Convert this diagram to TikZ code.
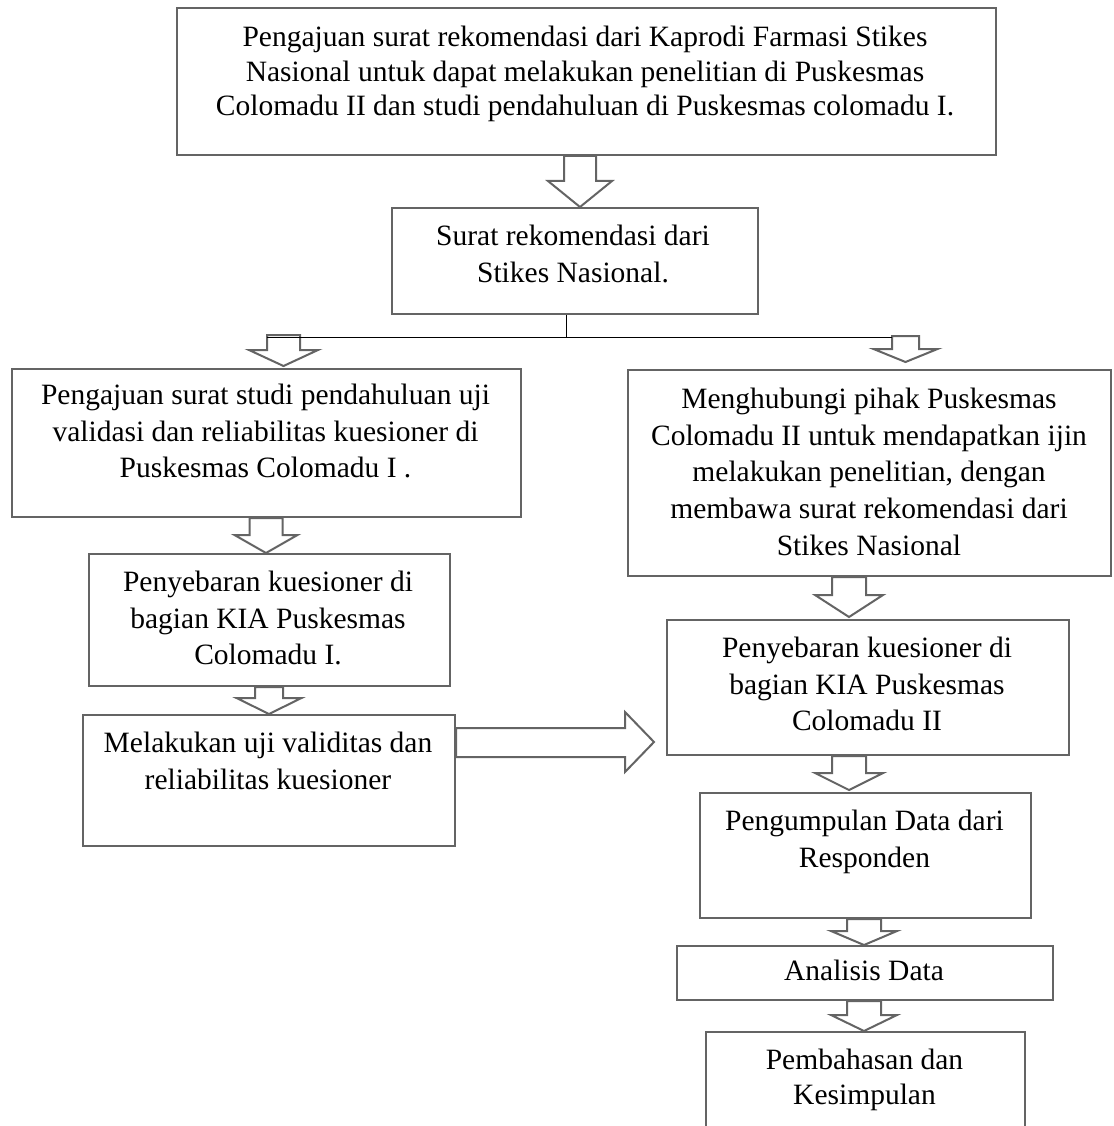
\documentclass[tikz,border=0pt]{standalone}
\usepackage{fontspec}
\setmainfont{Liberation Serif}
\usetikzlibrary{calc}
\definecolor{linegray}{RGB}{100,100,100}
% #1 start point, #2 tip point, #3 centre x, #4 shaft half width, #5 head half width, #6 head length
\newcommand{\vblock}[6]{%
  \draw[blk] let \p1=#1, \p2=#2 in
    ({(#3-#4)*1pt},\y1) -- ({(#3-#4)*1pt},{\y2+#6pt}) -- ({(#3-#5)*1pt},{\y2+#6pt})
    -- ({#3pt},\y2) -- ({(#3+#5)*1pt},{\y2+#6pt}) -- ({(#3+#4)*1pt},{\y2+#6pt})
    -- ({(#3+#4)*1pt},\y1) -- cycle;}
\begin{document}
\begin{tikzpicture}[x=1pt,y=1pt,
  box/.style={draw=linegray, line width=2pt, inner sep=0pt, anchor=north west},
  txt/.style={anchor=north, inner sep=0pt, align=center, font=\fontsize{29.5pt}{36.6pt}\selectfont},
  blk/.style={draw=linegray, line width=2pt, fill=white, line join=miter},
  thinline/.style={draw=black, line width=1pt}]
\useasboundingbox (0,0) rectangle (1113,-1126);
\clip (0,0) rectangle (1113,-1126);
\fill[white] (0,0) rectangle (1113,-1126);
% boxes
\node[box, minimum width=819pt, minimum height=147pt] (b1) at (176,-7) {};
\node[box, minimum width=366pt, minimum height=106pt] (b2) at (391,-207) {};
\node[box, minimum width=509pt, minimum height=148pt] (b3) at (11,-368) {};
\node[box, minimum width=483pt, minimum height=206pt] (b4) at (627,-369) {};
\node[box, minimum width=361pt, minimum height=132pt] (b5) at (88,-553) {};
\node[box, minimum width=372pt, minimum height=131pt] (b6) at (82,-714) {};
\node[box, minimum width=402pt, minimum height=135pt] (b7) at (666,-619) {};
\node[box, minimum width=331pt, minimum height=125pt] (b8) at (699,-792) {};
\node[box, minimum width=376pt, minimum height=54pt] (b9) at (676,-945) {};
\node[box, minimum width=319pt, minimum height=140pt] (b10) at (705,-1031) {};
% split coordinates
\coordinate (jl) at (267,-337);
\coordinate (jm) at (566,-337);
\coordinate (jr) at (892,-337);
% block arrows
\vblock{(b1.south)}{(b2.north)}{580}{16}{32}{26}
\vblock{($(jl)+(0,2)$)}{($(b3.north)+(0,2)$)}{283.5}{16.5}{34.5}{16}
\vblock{($(jr)+(0,1)$)}{($(b4.north)+(0,7)$)}{905.5}{13.5}{32}{13}
\vblock{(b3.south)}{(b5.north)}{266}{16.5}{31.5}{18}
\vblock{(b5.south)}{(b6.north)}{269}{14}{32.5}{16}
\vblock{(b4.south)}{($(b7.north)+(0,2)$)}{849}{17}{34}{22}
\vblock{(b7.south)}{($(b8.north)+(0,2)$)}{849}{17}{34}{17}
\vblock{(b8.south)}{(b9.north)}{864}{17}{33}{14}
\vblock{(b9.south)}{(b10.north)}{864}{17}{33}{16}
\draw[blk] let \p1=(b6.east), \p2=(b7.west) in
  (\x1,-728pt) -- ({\x2-41pt},-728pt) -- ({\x2-41pt},-712pt) -- ({\x2-12pt},-742pt)
  -- ({\x2-41pt},-772pt) -- ({\x2-41pt},-757pt) -- (\x1,-757pt) -- cycle;
% split lines
\draw[thinline] (jm |- b2.south) -- (jm);
\draw[thinline] (jl) -- (jr);
% texts
\node[txt, font=\fontsize{29.5pt}{34.5pt}\selectfont] (t1) at (585,-26) {Pengajuan surat rekomendasi dari Kaprodi Farmasi Stikes\\Nasional untuk dapat melakukan penelitian di Puskesmas\\Colomadu II dan studi pendahuluan di Puskesmas colomadu I.};
\node[txt] (t2) at (573,-225) {Surat rekomendasi dari\\Stikes Nasional.};
\node[txt] (t3) at (265.5,-384) {Pengajuan surat studi pendahuluan uji\\validasi dan reliabilitas kuesioner di\\Puskesmas Colomadu I .};
\node[txt] (t4) at (869,-388) {Menghubungi pihak Puskesmas\\Colomadu II untuk mendapatkan ijin\\melakukan penelitian, dengan\\membawa surat rekomendasi dari\\Stikes Nasional};
\node[txt] (t5) at (268,-571) {Penyebaran kuesioner di\\bagian KIA Puskesmas\\Colomadu I.};
\node[txt] (t6) at (268,-732) {Melakukan uji validitas dan\\reliabilitas kuesioner};
\node[txt] (t7) at (867,-637) {Penyebaran kuesioner di\\bagian KIA Puskesmas\\Colomadu II};
\node[txt] (t8) at (864.5,-810) {Pengumpulan Data dari\\Responden};
\node[txt] (t9) at (864,-960) {Analisis Data};
\node[txt, font=\fontsize{29.5pt}{35pt}\selectfont] (t10) at (864.5,-1049) {Pembahasan dan\\Kesimpulan};
\end{tikzpicture}
\end{document}
